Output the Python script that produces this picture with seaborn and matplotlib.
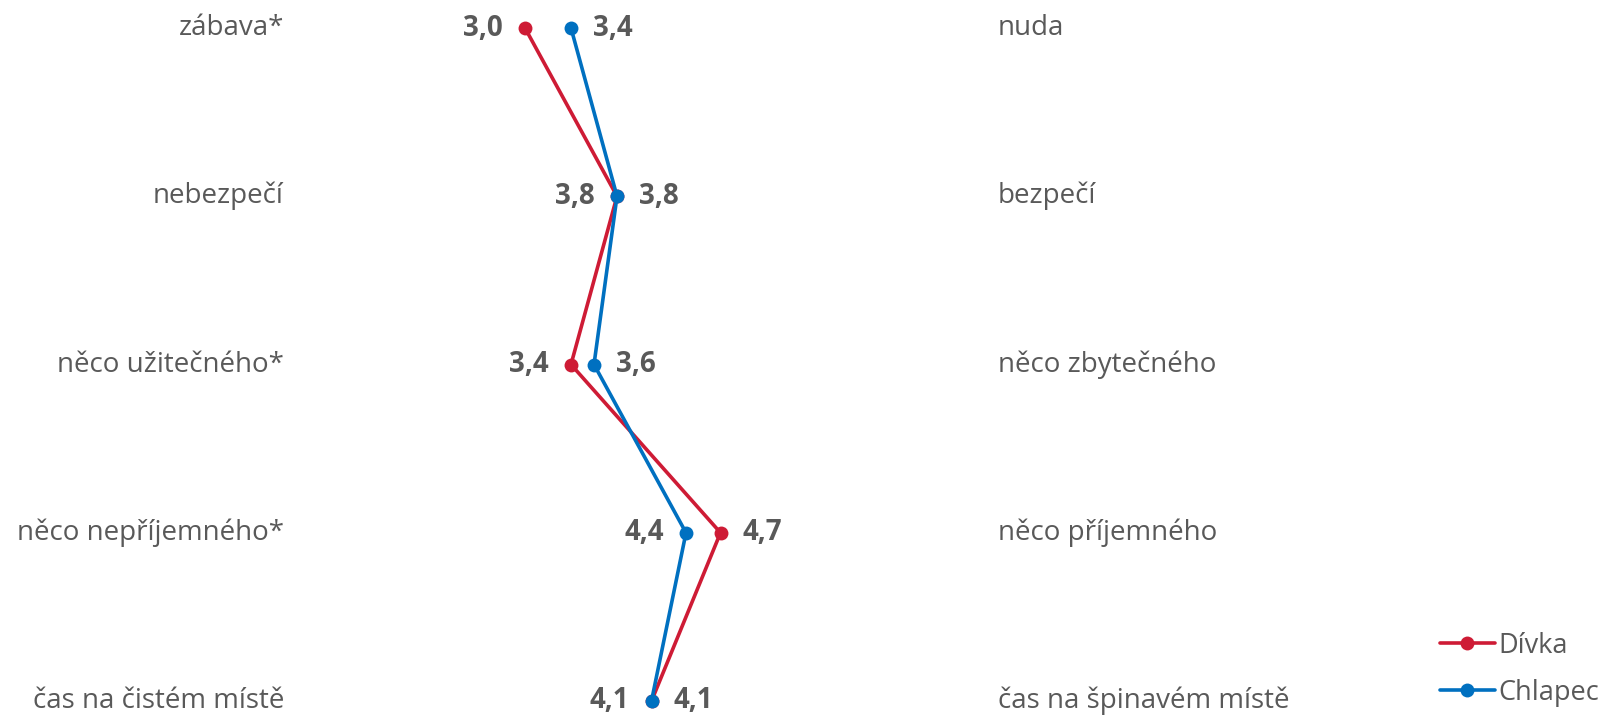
import pandas as pd
import seaborn as sns
import matplotlib.pyplot as plt

# data
left_labels = ['zábava*', 'nebezpečí', 'něco užitečného*', 'něco nepříjemného*', 'čas na čistém místě']
right_labels = ['nuda', 'bezpečí', 'něco zbytečného', 'něco příjemného', 'čas na špinavém místě']
divka = [3.0, 3.8, 3.4, 4.7, 4.1]
chlapec = [3.4, 3.8, 3.6, 4.4, 4.1]

rows = list(range(len(left_labels)))
df = pd.concat([
    pd.DataFrame({'value': divka, 'row': rows, 'pohlaví': 'Dívka'}),
    pd.DataFrame({'value': chlapec, 'row': rows, 'pohlaví': 'Chlapec'}),
])

sns.set_style('white')
plt.rcParams['font.family'] = ['Open Sans', 'DejaVu Sans']
grey = '#595959'
colors = {'Dívka': '#CE1B35', 'Chlapec': '#0070C0'}
fs = 20

fig = plt.figure(figsize=(16.1, 7.18), dpi=100)
ax = fig.add_axes([295 / 1610, 1 - 701 / 718, 690 / 1610, (701 - 28) / 718])

sns.lineplot(data=df, x='value', y='row', hue='pohlaví', palette=colors,
             orient='y', marker='o', markersize=10, markeredgewidth=0,
             linewidth=2.6, ax=ax, clip_on=False, legend=True)

ax.set_xlim(1, 7)
ax.set_ylim(4, 0)
ax.set_xticks([])
ax.set_yticks([])
ax.set_xlabel('')
ax.set_ylabel('')
sns.despine(ax=ax, left=True, bottom=True)

# row labels on both sides
for i in rows:
    ax.annotate(left_labels[i], xy=(0, i), xycoords=('axes fraction', 'data'),
                xytext=(-8, 0), textcoords='offset points', ha='right', va='center',
                fontsize=fs, color=grey)
    ax.annotate(right_labels[i], xy=(1, i), xycoords=('axes fraction', 'data'),
                xytext=(9, 0), textcoords='offset points', ha='left', va='center',
                fontsize=fs, color=grey)

# value labels: lower value on the left, higher on the right
for i in rows:
    d, c = divka[i], chlapec[i]
    d_left = d < c
    for v, left in ((d, d_left), (c, not d_left)):
        ax.annotate(f'{v:.1f}'.replace('.', ','), xy=(v, i),
                    xytext=(-16 if left else 16, 0), textcoords='offset points',
                    ha='right' if left else 'left', va='center',
                    fontsize=fs, fontweight='bold', color=grey)

leg = ax.legend(loc='lower left', bbox_to_anchor=(1416 / 1610, -0.018),
                bbox_transform=fig.transFigure, frameon=False, fontsize=19.5,
                handlelength=2.0, handletextpad=0.15, labelspacing=0.7,
                labelcolor=grey, title=None)

fig.savefig('out.png', dpi=100)
